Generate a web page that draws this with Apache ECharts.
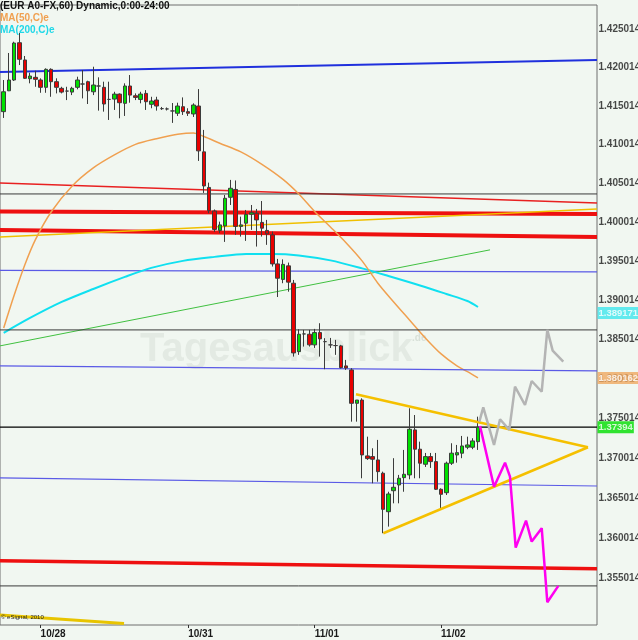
<!DOCTYPE html>
<html><head><meta charset="utf-8">
<script src="https://cdn.jsdelivr.net/npm/echarts@6/dist/echarts.min.js"></script>
<style>html,body{margin:0;padding:0;background:#f1f7f1}#c{width:638px;height:640px}</style>
</head><body><div id="c"></div>
<script>
const FONT = "'Liberation Sans', Arial, sans-serif";

// ---- candles (hourly, index = bar number) ----
const open  = [1.41429,1.41700,1.41840,1.42326,1.42101,1.41857,1.41875,1.41840,1.41745,1.41979,1.41818,1.41732,1.41696,1.41683,1.41745,1.41788,1.41818,1.41687,1.41762,1.41745,1.41588,1.41592,1.41657,1.41537,1.41762,1.41635,1.41588,1.41666,1.41524,1.41580,1.41468,1.41464,1.41438,1.41408,1.41493,1.41429,1.41399,1.41502,1.40908,1.40449,1.40146,1.39896,1.39954,1.40322,1.40423,1.39948,1.39989,1.40104,1.40117,1.39999,1.39896,1.39839,1.39467,1.39269,1.39442,1.39220,1.38349,1.38574,1.38570,1.38435,1.38591,1.38476,1.38435,1.38426,1.38422,1.38168,1.38117,1.37695,1.37736,1.37032,1.37023,1.36981,1.36814,1.36332,1.36595,1.36667,1.36759,1.36793,1.37359,1.37116,1.36927,1.37023,1.36960,1.36613,1.36570,1.36940,1.37044,1.37066,1.37141,1.37141,1.37211];
const close = [1.41687,1.41840,1.42322,1.42110,1.41862,1.41892,1.41849,1.41745,1.41979,1.41818,1.41745,1.41683,1.41696,1.41732,1.41840,1.41788,1.41700,1.41775,1.41762,1.41528,1.41588,1.41657,1.41545,1.41762,1.41644,1.41614,1.41657,1.41558,1.41567,1.41502,1.41468,1.41464,1.41438,1.41502,1.41429,1.41408,1.41515,1.40921,1.40468,1.40150,1.39909,1.39967,1.40309,1.40438,1.39948,1.39967,1.40101,1.40124,1.40031,1.39925,1.39852,1.39467,1.39284,1.39461,1.39234,1.38333,1.38570,1.38574,1.38435,1.38591,1.38511,1.38476,1.38435,1.38426,1.38146,1.38142,1.37695,1.37736,1.37044,1.36998,1.36990,1.36834,1.36362,1.36554,1.36638,1.36751,1.36801,1.37367,1.37116,1.36940,1.37023,1.36960,1.36613,1.36550,1.36940,1.37066,1.37073,1.37157,1.37170,1.37220,1.37394];
const low   = [1.41347,1.41696,1.41827,1.42035,1.41853,1.41797,1.41752,1.41674,1.41674,1.41622,1.41666,1.41666,1.41579,1.41644,1.41719,1.41601,1.41528,1.41644,1.41442,1.41429,1.41321,1.41451,1.41343,1.41373,1.41545,1.41579,1.41537,1.41451,1.41473,1.41442,1.41451,1.41444,1.41283,1.41373,1.41386,1.41373,1.41360,1.40791,1.40378,1.40117,1.39877,1.39860,1.39749,1.40223,1.39839,1.39817,1.39762,1.39903,1.39689,1.39817,1.39711,1.39433,1.39044,1.39220,1.39112,1.38286,1.38308,1.38413,1.38413,1.38396,1.38286,1.38126,1.38396,1.38308,1.38136,1.38117,1.37463,1.37463,1.36751,1.36981,1.36688,1.36708,1.36063,1.36146,1.36437,1.36437,1.36582,1.36738,1.36751,1.36751,1.36893,1.36881,1.36604,1.36354,1.36541,1.36918,1.36947,1.37003,1.37116,1.37116,1.37107];
const high  = [1.41840,1.42192,1.42339,1.42453,1.42153,1.41935,1.41961,1.41862,1.41992,1.41992,1.41862,1.41752,1.41752,1.41752,1.41883,1.41970,1.41831,1.42013,1.41875,1.41818,1.41818,1.41687,1.41666,1.41797,1.41905,1.41666,1.41687,1.41709,1.41622,1.41622,1.41490,1.41483,1.41541,1.41545,1.41614,1.41473,1.41537,1.41722,1.41192,1.40511,1.40165,1.40009,1.40352,1.40546,1.40539,1.40073,1.40159,1.40223,1.40172,1.40274,1.40031,1.39881,1.39531,1.39525,1.39484,1.39262,1.38634,1.38625,1.38625,1.38638,1.38710,1.38520,1.38523,1.38498,1.38435,1.38244,1.38139,1.37736,1.37758,1.37274,1.37128,1.37233,1.36834,1.36582,1.37003,1.36793,1.37107,1.37632,1.37547,1.37211,1.37069,1.37069,1.37069,1.36625,1.36960,1.37191,1.37170,1.37283,1.37274,1.37254,1.37526];

// ---- moving averages (sampled bars) ----
const ma200Idx = [0,5,11,17,23,28,34,40,46,51,56,62,68,73,79,84,88,90];
const ma200Val = [1.38587,1.38777,1.38981,1.39147,1.39301,1.39416,1.39506,1.39557,1.39595,1.39595,1.39576,1.39512,1.39410,1.39313,1.39192,1.39083,1.38993,1.38917];
const ma50Idx = [0,2,4,6,9,13,17,21,25,29,33,36,38,41,45,49,53,56,59,62,65,68,71,74,77,80,83,86,88,90];
const ma50Val = [1.38650,1.39070,1.39454,1.39775,1.40133,1.40468,1.40701,1.40869,1.41005,1.41078,1.41135,1.41153,1.41106,1.41020,1.40908,1.40747,1.40553,1.40365,1.40140,1.39941,1.39736,1.39506,1.39220,1.38981,1.38752,1.38523,1.38320,1.38168,1.38095,1.38016];

// ---- drawn lines: [start, end] ----
const X_MIN = -0.70, X_MAX = 112.58;
const Y_MIN = 1.349224, Y_MAX = 1.428195;
const edgeX = [X_MIN, X_MAX];
const blueThickY  = [1.41944, 1.42101];
const redThinY    = [1.40507, 1.40249];
const redThick1Y  = [1.40140, 1.40108];
const redThick2Y  = [1.39903, 1.39813];
const yellowThinY = [1.39813, 1.40172];
const greyTopY    = [1.40365, 1.40365];
const blueThin1Y  = [1.39384, 1.39365];
const darkMidY    = [1.38625, 1.38625];
const blueThin2Y  = [1.38168, 1.38104];
const lastPriceY  = [1.37394, 1.37394];
const blueThin3Y  = [1.36755, 1.36654];
const redThick3Y  = [1.35719, 1.35619];
const darkLowY    = [1.35407, 1.35407];
const greenTrendX = [-0.70, 92.28];
const greenTrendY = [1.38422, 1.39647];
const triUpperX = [66.85, 110.87], triUpperY = [1.37808, 1.37141];
const triLowerX = [72.03, 110.87], triLowerY = [1.36063, 1.37141];
const yellowBotX = [-0.70, 22.83], yellowBotY = [1.35046, 1.34940];

// ---- forecast paths ----
const greyPathX = [90.25,91.0,93.04,94.18,95.94,97.02,98.92,100.19,102.09,103.15,104.17,106.18];
const greyPathY = [1.37463,1.37644,1.37170,1.37493,1.37359,1.37905,1.37673,1.37977,1.37841,1.38625,1.38362,1.38222];
const magPathX = [90.38,93.04,95.13,96.07,97.15,99.11,100.19,102.09,103.15,105.24];
const magPathY = [1.37409,1.36645,1.36947,1.36771,1.35884,1.36220,1.35959,1.36126,1.35205,1.35407];

// ---- axis labels ----
const yTicks = [1.425014,1.420014,1.415014,1.410014,1.405014,1.400014,1.395014,1.390014,1.385014,1.380014,1.375014,1.370014,1.365014,1.360014,1.355014];
const xTickIdx = [7, 35, 59, 83];
const xTickLabels = ['10/28', '10/31', '11/01', '11/02'];
const tagValues = [1.389171, 1.380162, 1.37394];
const tagColors = ['#3ee6ee', '#f0a860', '#00dd00'];

const candleData = open.map((o, i) => [i, o, close[i], low[i], high[i]]);

function seg(xs, ys, color, width, z, extra) {
  return Object.assign({
    type: 'line', data: xs.map((x, i) => [x, ys[i]]), symbol: 'none', silent: true,
    animation: false, lineStyle: { color: color, width: width }, z: z || 2
  }, extra || {});
}

const series = [
  seg(edgeX, blueThickY, '#2030dd', 2),
  seg(edgeX, redThinY, '#e82020', 1.6),
  seg(edgeX, greyTopY, '#3a3a3a', 1),
  seg(edgeX, redThick1Y, '#ee1010', 4),
  seg(edgeX, redThick2Y, '#ee1010', 4),
  seg(edgeX, yellowThinY, '#f0c000', 1.5),
  seg(edgeX, blueThin1Y, '#5a5ae6', 1.2),
  seg(greenTrendX, greenTrendY, '#40c040', 1),
  seg(ma200Idx, ma200Val, '#10e0f0', 2, 2, { smooth: 0.3 }),
  seg(ma50Idx, ma50Val, '#f0a050', 1.5, 2, { smooth: 0.3 }),
  seg(edgeX, darkMidY, '#3a3a3a', 1),
  seg(edgeX, blueThin2Y, '#5a5ae6', 1.2),
  seg(edgeX, lastPriceY, '#000000', 1.2),
  seg(edgeX, blueThin3Y, '#5a5ae6', 1.2),
  seg(edgeX, redThick3Y, '#ee1010', 3.5),
  seg(edgeX, darkLowY, '#3a3a3a', 1),
  seg(yellowBotX, yellowBotY, '#e8c400', 3),
  {
    type: 'candlestick', data: candleData, encode: { x: 0, y: [1, 2, 3, 4] },
    barWidth: 4, animation: false, silent: true, z: 3,
    itemStyle: { color: '#00e000', color0: '#e80000', borderColor: '#3c3c3c', borderColor0: '#3c3c3c', borderColorDoji: '#3c3c3c', borderWidth: 1 }
  },
  seg(triUpperX, triUpperY, '#f5c000', 2.5, 4),
  seg(triLowerX, triLowerY, '#f5c000', 2.5, 4),
  seg(greyPathX, greyPathY, '#b4b4b4', 2.5, 4),
  seg(magPathX, magPathY, '#ff00f0', 2.5, 4),
  {
    type: 'scatter', data: yTicks.map(v => [X_MAX, v]), symbolSize: 1, clip: false, silent: true, animation: false, z: 5,
    itemStyle: { color: 'transparent' },
    label: { show: true, position: 'right', distance: 1, formatter: p => p.value[1].toFixed(6),
      color: '#1a1a1a', fontFamily: FONT, fontWeight: 'bold', fontSize: 10 }
  },
  ...tagValues.map((v, k) => ({
    type: 'scatter', data: [[X_MAX, v]], symbolSize: 1, clip: false, silent: true, animation: false, z: 6,
    itemStyle: { color: 'transparent' },
    label: { show: true, position: 'right', distance: 0, offset: [0, k === 0 ? 6 : 0],
      formatter: p => String(p.value[1]), color: '#ffffff', backgroundColor: tagColors[k],
      padding: [1, 1, 1, 1], fontFamily: FONT, fontWeight: 'bold', fontSize: 9.5 }
  }))
];

const chart = echarts.init(document.getElementById('c'), null, { renderer: 'canvas' });
chart.setOption({
  backgroundColor: '#f1f7f1',
  animation: false,
  grid: { left: 0, right: 41, top: 5, bottom: 15, show: true, borderColor: '#6e6e6e', borderWidth: 1 },
  xAxis: {
    type: 'value', min: X_MIN, max: X_MAX, splitLine: { show: false }, axisLine: { show: false },
    axisTick: { show: true, length: 3, customValues: xTickIdx, lineStyle: { color: '#333' } },
    axisLabel: { customValues: xTickIdx, formatter: v => xTickLabels[xTickIdx.indexOf(Math.round(v))] || '',
      align: 'left', margin: 4, color: '#1a1a1a', fontFamily: FONT, fontWeight: 'bold', fontSize: 10 }
  },
  yAxis: {
    type: 'log', min: Y_MIN, max: Y_MAX, position: 'right', scale: true,
    splitLine: { show: false }, axisLine: { show: false }, axisTick: { show: false }, axisLabel: { show: false }
  },
  graphic: [
    { type: 'text', left: 140, top: 330, z: 0, style: { text: 'Tagesausblick', font: 'bold 40px "Liberation Sans", Arial, sans-serif', fill: '#e3eae3' } },
    { type: 'text', left: 412, top: 333, z: 0, style: { text: '.de', font: 'bold 10px "Liberation Sans", Arial, sans-serif', fill: '#d8e0d8' } },
    { type: 'text', left: 0, top: 1, z: 10, style: { text: '(EUR A0-FX,60) Dynamic,0:00-24:00', font: 'bold 10px ' + FONT, fill: '#111' } },
    { type: 'text', left: 0, top: 13.5, z: 10, style: { text: 'MA(50,C)e', font: 'bold 10px ' + FONT, fill: '#f0a050' } },
    { type: 'text', left: 0, top: 25, z: 10, style: { text: 'MA(200,C)e', font: 'bold 10px ' + FONT, fill: '#20d8e8' } },
    { type: 'text', left: 1, top: 614, z: 10, style: { text: '© eSignal, 2010', font: '6px ' + FONT, fill: '#222' } }
  ],
  series: series
});
</script></body></html>
